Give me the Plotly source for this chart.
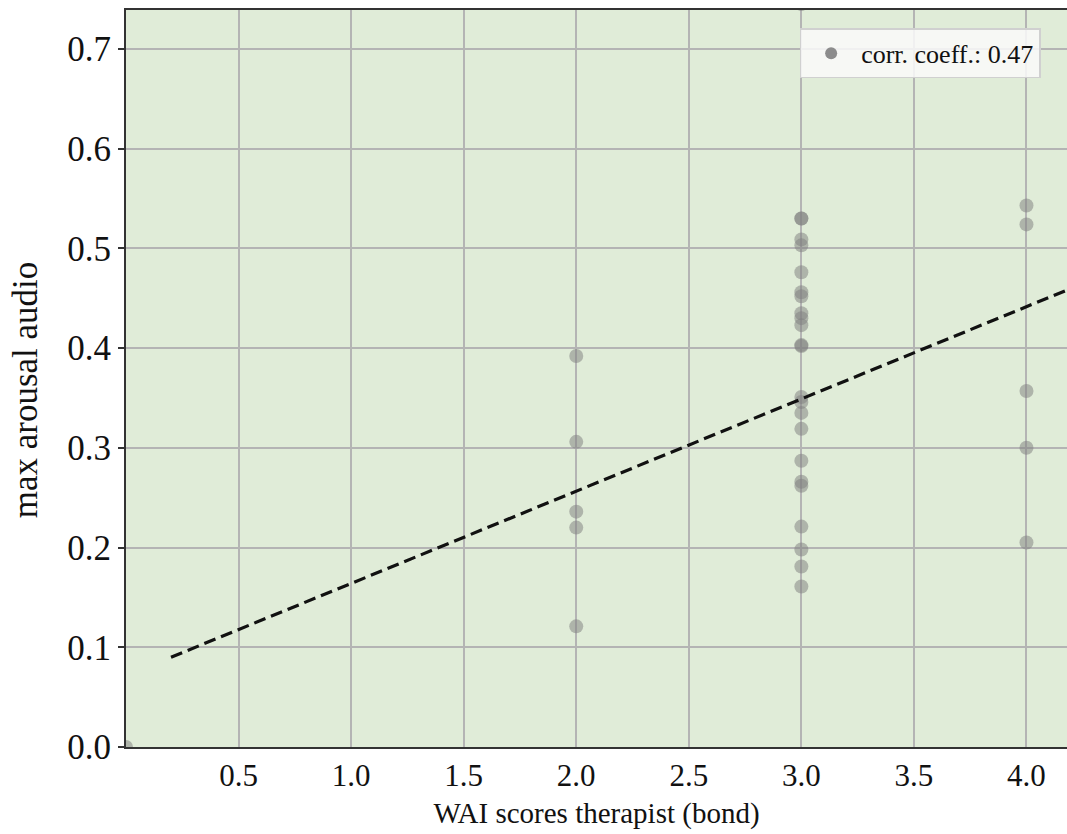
import plotly.graph_objects as go

# data
x_vals = ([0.0]
          + [2.0] * 5
          + [3.0] * 24
          + [4.0] * 5)
y_vals = ([0.0]
          + [0.392, 0.306, 0.236, 0.220, 0.121]
          + [0.745, 0.530, 0.530, 0.509, 0.503, 0.476, 0.456, 0.452, 0.435, 0.430,
             0.423, 0.403, 0.402, 0.351, 0.346, 0.335, 0.319, 0.287, 0.266, 0.262,
             0.221, 0.198, 0.181, 0.161]
          + [0.543, 0.524, 0.357, 0.300, 0.205])

trend_x = [0.2, 4.2]
trend_y = [0.090, 0.460]

legend_label = "corr. coeff.: 0.47"
x_title = "WAI scores therapist (bond)"
y_title = "max arousal audio"
x_ticks = [0.5, 1.0, 1.5, 2.0, 2.5, 3.0, 3.5, 4.0]
x_tick_text = ["0.5", "1.0", "1.5", "2.0", "2.5", "3.0", "3.5", "4.0"]
y_ticks = [0.0, 0.1, 0.2, 0.3, 0.4, 0.5, 0.6, 0.7]
y_tick_text = ["0.0", "0.1", "0.2", "0.3", "0.4", "0.5", "0.6", "0.7"]

FONT = "Liberation Serif, Times New Roman, serif"

fig = go.Figure()
fig.add_trace(go.Scatter(
    x=x_vals, y=y_vals, mode="markers", showlegend=False,
    marker=dict(size=14, color="rgba(128,128,128,0.52)", line=dict(width=0)),
))
fig.add_trace(go.Scatter(
    x=[None], y=[None], mode="markers", name=legend_label, showlegend=True,
    marker=dict(size=15, color="rgb(140,140,140)", line=dict(width=0)),
))
fig.add_trace(go.Scatter(
    x=trend_x, y=trend_y, mode="lines", showlegend=False,
    line=dict(color="#111111", width=3.2, dash="12px,6px"),
))

fig.update_layout(
    width=1067, height=834,
    margin=dict(l=126, r=0, t=10, b=87),
    paper_bgcolor="white",
    plot_bgcolor="rgb(224,236,216)",
    font=dict(family=FONT, size=26, color="#111111"),
    legend=dict(
        x=0.972, y=0.975, xanchor="right", yanchor="top",
        bgcolor="rgba(250,250,250,0.85)", bordercolor="#d0d0d0", borderwidth=1.5,
        font=dict(family=FONT, size=26, color="#111111"),
        itemsizing="constant", itemwidth=50,
    ),
    annotations=[dict(
        text=y_title, textangle=-90, showarrow=False,
        xref="paper", yref="paper", x=0, y=0.484,
        xanchor="center", yanchor="middle", xshift=-101,
        font=dict(family=FONT, size=35, color="#111111"),
    )],
)
fig.update_xaxes(
    range=[0, 4.18], tickvals=x_ticks, ticktext=x_tick_text,
    showgrid=True, gridcolor="#b4b4b4", gridwidth=1.5, zeroline=False,
    showline=True, linecolor="#333333", linewidth=2, mirror=True,
    ticks="", tickfont=dict(size=31),
    title=dict(text=x_title, font=dict(size=29), standoff=10),
)
fig.update_yaxes(
    range=[0, 0.739], tickvals=y_ticks, ticktext=y_tick_text,
    showgrid=True, gridcolor="#b4b4b4", gridwidth=1.5, zeroline=False,
    showline=True, linecolor="#333333", linewidth=2,
    ticks="outside", ticklen=6, tickcolor="#333333", tickwidth=1.5,
    tickfont=dict(size=35),
)

fig.write_html("out.html")
